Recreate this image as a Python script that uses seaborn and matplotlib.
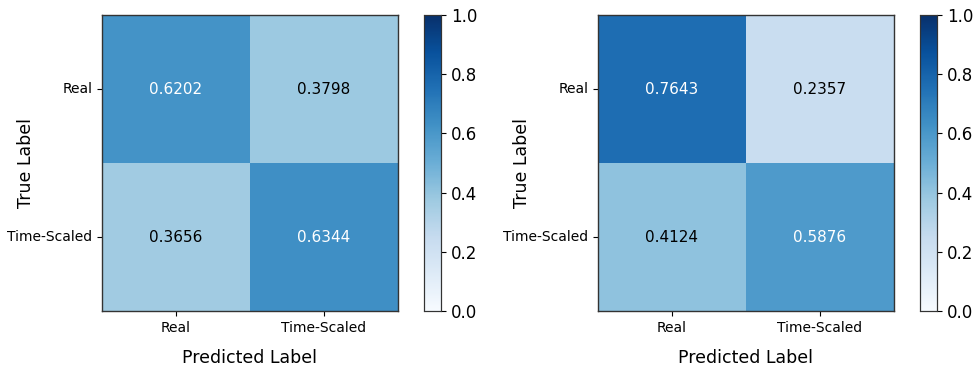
import numpy as np
import pandas as pd
import matplotlib
matplotlib.use("Agg")
import matplotlib.pyplot as plt
import seaborn as sns

classes = ["Real", "Time-Scaled"]
cm_left = [[0.6202, 0.3798],
           [0.3656, 0.6344]]
cm_right = [[0.7643, 0.2357],
            [0.4124, 0.5876]]

W, H = 978, 371
fig = plt.figure(figsize=(W / 100, H / 100), dpi=100)

def box(x0, y0, x1, y1):
    return [x0 / W, 1 - y1 / H, (x1 - x0) / W, (y1 - y0) / H]

panels = [
    (cm_left, box(102, 15, 398, 311), box(424, 15, 441, 311)),
    (cm_right, box(598, 15, 894, 311), box(920, 15, 937, 311)),
]

for cm, ax_rect, cb_rect in panels:
    ax = fig.add_axes(ax_rect)
    cax = fig.add_axes(cb_rect)
    df = pd.DataFrame(cm, index=classes, columns=classes)
    sns.heatmap(df, ax=ax, cbar_ax=cax, cmap="Blues", vmin=0, vmax=1,
                annot=True, fmt=".4f", annot_kws={"fontsize": 11},
                linewidths=0)
    # white text on dark cells, black on light ones
    for t, v in zip(ax.texts, np.array(cm).ravel()):
        t.set_color("white" if v > 0.5 else "black")
    for s in ax.spines.values():
        s.set_visible(True)
        s.set_color("#333333")
        s.set_linewidth(1.0)
    ax.tick_params(axis="both", length=3.5, width=0.8, labelsize=10)
    ax.set_yticklabels(classes, rotation=0)
    ax.set_xticklabels(classes, rotation=0)
    ax.set_xlabel("Predicted Label", fontsize=12.5, labelpad=10)
    ax.set_ylabel("True Label", fontsize=12.5)
    ax.yaxis.set_label_coords(-0.225, 0.5)
    cax.tick_params(labelsize=12, length=3.5, width=0.8)
    cax.set_yticks([0, 0.2, 0.4, 0.6, 0.8, 1.0])
    cax.set_yticklabels(["0.0", "0.2", "0.4", "0.6", "0.8", "1.0"])
    for s in cax.spines.values():
        s.set_visible(True)
        s.set_color("#333333")
        s.set_linewidth(0.8)

fig.savefig("out.png", dpi=100)
